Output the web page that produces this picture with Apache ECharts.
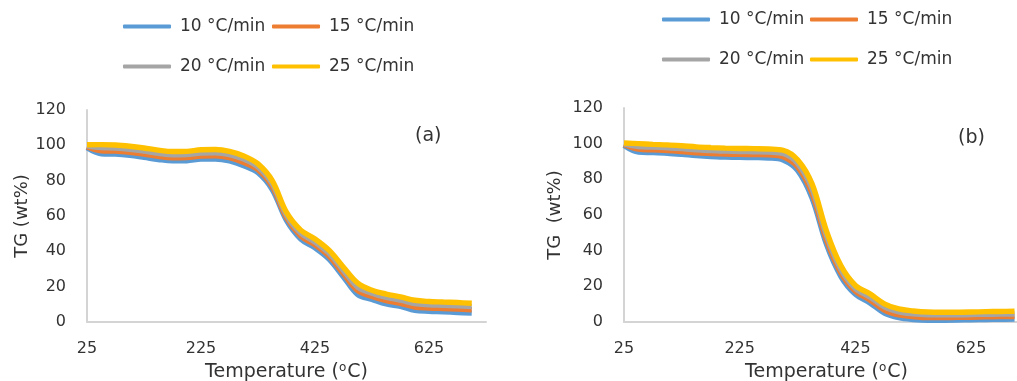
<!DOCTYPE html>
<html><head><meta charset="utf-8">
<script src="https://cdn.jsdelivr.net/npm/echarts@6/dist/echarts.min.js"></script>
<style>html,body{margin:0;padding:0;background:#fff}#c{width:1017px;height:381px}</style>
</head><body><div id="c"></div>
<script>
// ---- data ----
const temps = [25,50,75,100,125,150,175,200,225,250,275,300,325,350,375,400,425,450,475,500,525,550,575,600,625,650,675,700];
const seriesNames = ['10 °C/min','15 °C/min','20 °C/min','25 °C/min'];
const xTickLabels = [25,225,425,625];
// chart (a)
const a10 = [98.6,95.2,95.0,94.3,93.2,92.0,91.2,91.3,92.2,92.3,91.2,88.5,84.5,75.0,57.5,47.0,42.0,35.5,25.5,15.5,12.8,10.2,8.8,6.6,6.1,5.8,5.4,5.1];
const a15 = [99.2,96.9,96.7,96.0,95.0,93.8,93.0,93.1,94.0,94.1,93.0,90.3,86.2,76.7,59.0,48.7,43.7,37.2,27.3,17.7,14.5,12.1,10.6,8.5,7.9,7.6,7.3,6.9];
const a20 = [99.7,98.7,98.5,97.8,96.7,95.5,94.7,94.8,95.7,95.8,94.8,92.2,87.8,78.3,60.5,50.3,45.3,38.8,29.2,19.8,16.3,13.9,12.4,10.4,9.8,9.5,9.1,8.8];
const a25 = [100.3,100.4,100.2,99.5,98.5,97.3,96.5,96.6,97.5,97.6,96.6,94.0,89.5,80.0,62.0,52.0,47.0,40.5,31.0,22.0,18.0,15.8,14.2,12.3,11.6,11.3,11.0,10.6];
// chart (b)
const b10 = [99.0,95.3,95.0,94.6,94.0,93.3,92.8,92.5,92.3,92.2,92.0,90.8,85.0,69.5,43.5,25.5,15.5,10.7,5.0,2.4,1.4,1.0,1.0,1.1,1.3,1.4,1.5,1.6];
const b15 = [99.5,96.9,96.5,96.2,95.6,94.9,94.5,94.2,94.0,93.9,93.7,92.6,87.0,72.2,46.0,27.5,17.2,12.4,6.7,4.0,3.0,2.5,2.5,2.6,2.7,2.9,3.0,3.1];
const b20 = [99.9,98.4,98.1,97.7,97.2,96.6,96.1,95.8,95.6,95.5,95.3,94.5,89.0,74.8,48.5,29.5,18.8,14.1,8.5,5.7,4.6,4.1,4.0,4.0,4.2,4.3,4.4,4.5];
const b25 = [100.4,100.0,99.6,99.3,98.8,98.2,97.8,97.5,97.3,97.2,97.0,96.3,91.0,77.5,51.0,31.5,20.5,15.8,10.2,7.3,6.2,5.6,5.5,5.5,5.6,5.8,5.9,6.0];

// ---- styling ----
const colors = ['#5B9BD5','#ED7D31','#A5A5A5','#FFC000'];
const FONT = 'DejaVu Sans';
const TXT = '#333333';
const AXC = '#D4D4D4';

const pair = (ys) => temps.map((t,i)=>[t, ys[i]]);
const setsA = [a10,a15,a20,a25];
const setsB = [b10,b15,b20,b25];

function xAx(idx){
  return {
    type:'value', gridIndex: idx, min:25, max:725,
    axisLine:{show:true, lineStyle:{color:AXC, width:2}},
    axisTick:{show:false}, splitLine:{show:false},
    axisLabel:{customValues: xTickLabels, color:TXT, fontFamily:FONT, fontSize:16, margin:19},
    name:'Temperature ({s|o}C)', nameLocation:'middle', nameGap:38,
    nameTextStyle:{color:TXT, fontFamily:FONT, fontSize:19,
      rich:{s:{fontSize:12, verticalAlign:'top', color:TXT, fontFamily:FONT, padding:[0,1,8,0]}}}
  };
}
function yAx(idx, nm, gap){
  return {
    type:'value', gridIndex: idx, min:0, max:120, interval:20,
    axisLine:{show:true, lineStyle:{color:AXC, width:2}},
    axisTick:{show:false}, splitLine:{show:false},
    axisLabel:{color:TXT, fontFamily:FONT, fontSize:16, margin:21},
    name:nm, nameLocation:'middle', nameGap:gap,
    nameTextStyle:{color:TXT, fontFamily:FONT, fontSize:18}
  };
}

const series = [];
setsA.forEach((d,i)=>series.push({name:seriesNames[i], type:'line', xAxisIndex:0, yAxisIndex:0,
  data:pair(d), smooth:0.35, showSymbol:false, lineStyle:{width:5.4, color:colors[i]}, itemStyle:{color:colors[i]}}));
setsB.forEach((d,i)=>series.push({name:seriesNames[i], type:'line', xAxisIndex:1, yAxisIndex:1,
  data:pair(d), smooth:0.35, showSymbol:false, lineStyle:{width:5.4, color:colors[i]}, itemStyle:{color:colors[i]}}));

// legend item anchors (icon left, text center y)
const legendPos = [
  [123,27],[272,27],[123,67],[272,67],
  [662,20],[810,20],[662,60],[810,60]
];
const legends = legendPos.map((p,k)=>({
  left:p[0], top:p[1]-9, padding:0, itemGap:0,
  data:[seriesNames[k%4]], icon:'roundRect', itemWidth:48, itemHeight:4,
  selectedMode:false,
  textStyle:{color:TXT, fontFamily:FONT, fontSize:17, padding:[0,0,0,4]}
}));

const option = {
  animation:false,
  backgroundColor:'#fff',
  color: colors,
  grid:[
    {left:87, top:110, width:399, height:212, containLabel:false, outerBoundsMode:'none'},
    {left:624, top:108, width:405, height:214, containLabel:false, outerBoundsMode:'none'}
  ],
  xAxis:[xAx(0), xAx(1)],
  yAxis:[yAx(0,'TG (wt%)',54), yAx(1,'TG  (wt%)',60)],
  legend: legends,
  graphic:[
    {type:'text', left:415, top:127, style:{text:'(a)', fill:TXT, font:'19px "DejaVu Sans"'}},
    {type:'text', left:958, top:129, style:{text:'(b)', fill:TXT, font:'19px "DejaVu Sans"'}}
  ],
  series: series
};
const chart = echarts.init(document.getElementById('c'), null, {renderer:'canvas'});
chart.setOption(option);
</script></body></html>
